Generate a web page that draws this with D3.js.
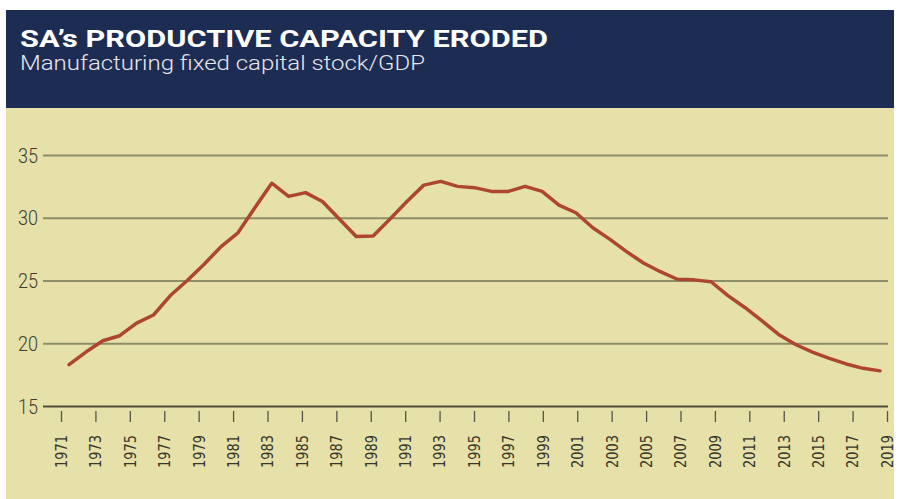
<!DOCTYPE html>
<html>
<head>
<meta charset="utf-8">
<script src="https://cdn.jsdelivr.net/npm/d3@7"></script>
<style>
  html, body { margin: 0; padding: 0; background: #fff; }
  svg { display: block; }
</style>
</head>
<body>
<div id="chart"></div>
<script>
// data
var years = d3.range(1971, 2020);
var values = [18.3, 19.3, 20.2, 20.6, 21.6, 22.25, 23.8, 25.0, 26.3, 27.7,
              28.8, 30.8, 32.75, 31.7, 32.0, 31.3, 29.9, 28.5, 28.55, 29.9,
              31.3, 32.6, 32.9, 32.5, 32.4, 32.1, 32.1, 32.5, 32.1, 31.0,
              30.4, 29.2, 28.3, 27.3, 26.4, 25.7, 25.1, 25.05, 24.9, 23.8,
              22.85, 21.8, 20.7, 19.9, 19.3, 18.8, 18.35, 18.0, 17.8];
var yTicks = [15, 20, 25, 30, 35];
var xTickYears = years.filter(function(d){ return (d - 1971) % 2 === 0; });
var title = "SA\u2019s PRODUCTIVE CAPACITY ERODED";
var subtitle = "Manufacturing fixed capital stock/GDP";

var width = 901, height = 499;

var svg = d3.select('#chart').append('svg')
  .attr('width', width).attr('height', height);

// panels
svg.append('rect').attr('x', 6).attr('y', 108).attr('width', 888).attr('height', 391)
  .attr('fill', '#e6e0a9');
svg.append('rect').attr('x', 6).attr('y', 10).attr('width', 888).attr('height', 98)
  .attr('fill', '#1d2c52');

svg.append('text').attr('x', 20).attr('y', 47)
  .attr('font-family', 'Roboto, sans-serif').attr('font-weight', 700)
  .attr('font-size', 23).attr('fill', '#ffffff')
  .attr('textLength', 528).attr('lengthAdjust', 'spacingAndGlyphs')
  .text(title);
svg.append('text').attr('x', 20).attr('y', 70)
  .attr('font-family', 'Roboto, sans-serif').attr('font-weight', 300)
  .attr('font-size', 21).attr('fill', '#e8e8ee')
  .attr('textLength', 405).attr('lengthAdjust', 'spacingAndGlyphs')
  .text(subtitle);

// scales
var y = d3.scaleLinear().domain([15, 35]).range([406, 155]);
var xAxisScale = d3.scaleLinear().domain([1971, 2019]).range([61, 887]);
var xLine = d3.scaleLinear().domain([1971, 2019]).range([69, 880]);

// gridlines
var grid = svg.append('g')
  .attr('transform', 'translate(43,0)')
  .call(d3.axisLeft(y).tickValues(yTicks).tickSize(-845).tickFormat(''));
grid.select('.domain').remove();
grid.selectAll('.tick line')
  .attr('stroke', function(d){ return d === 15 ? '#4e4e3a' : '#8c8e68'; })
  .attr('stroke-width', 2);

// y labels
svg.append('g').selectAll('text')
  .data(yTicks).enter().append('text')
  .attr('x', 38).attr('y', function(d){ return y(d); })
  .attr('dy', '0.36em')
  .attr('text-anchor', 'end')
  .attr('font-family', 'Roboto, sans-serif').attr('font-weight', 300)
  .attr('font-size', 21).attr('fill', '#3e3e30')
  .attr('textLength', 20).attr('lengthAdjust', 'spacingAndGlyphs')
  .text(function(d){ return d; });

// x axis ticks + rotated labels
var xAxis = svg.append('g')
  .attr('transform', 'translate(0,411)')
  .call(d3.axisBottom(xAxisScale).tickValues(xTickYears).tickSize(11).tickFormat(d3.format('d')));
xAxis.select('.domain').remove();
xAxis.selectAll('.tick line').attr('stroke', '#55554a').attr('stroke-width', 1.3);
xAxis.selectAll('.tick text')
  .attr('font-family', '"DejaVu Sans", Verdana, sans-serif')
  .attr('font-size', 15).attr('fill', '#36362a')
  .attr('textLength', 33).attr('lengthAdjust', 'spacingAndGlyphs')
  .attr('transform', 'rotate(-90)')
  .attr('text-anchor', 'end')
  .attr('x', -24).attr('y', 0).attr('dy', '0.36em');

// line
var line = d3.line()
  .x(function(d, i){ return xLine(years[i]); })
  .y(function(d){ return y(d); });

svg.append('path').datum(values)
  .attr('d', line)
  .attr('fill', 'none')
  .attr('stroke', '#ad4630')
  .attr('stroke-width', 3.5)
  .attr('stroke-linejoin', 'round')
  .attr('stroke-linecap', 'round');
</script>
</body>
</html>
